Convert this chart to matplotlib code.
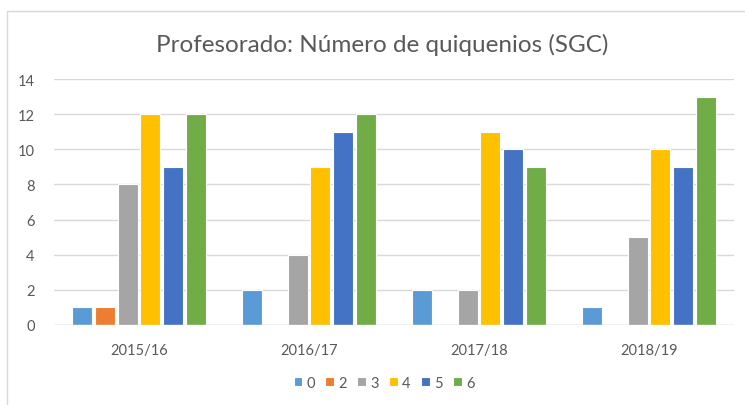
import matplotlib
matplotlib.use("Agg")
import matplotlib.pyplot as plt
import numpy as np
from matplotlib.patches import Rectangle

plt.rcParams['font.family'] = ['Lato', 'DejaVu Sans']

# Datos
cursos = ["2015/16", "2016/17", "2017/18", "2018/19"]
series = ["0", "2", "3", "4", "5", "6"]
q0 = [1, 2, 2, 1]
q2 = [1, 0, 0, 0]
q3 = [8, 4, 2, 5]
q4 = [12, 9, 11, 10]
q5 = [9, 11, 10, 9]
q6 = [12, 12, 9, 13]
valores = [q0, q2, q3, q4, q5, q6]
colores = ["#5B9BD5", "#ED7D31", "#A5A5A5", "#FFC000", "#4472C4", "#70AD47"]

fig = plt.figure(figsize=(7.45, 4.06), dpi=100)
ax = fig.add_axes([54 / 745, 1 - 326 / 406, 680 / 745, 246 / 406])

# marco del gráfico (estilo Excel)
fig.patches.append(Rectangle((7 / 745, -0.1), 1.2, 1 - 12 / 406 + 0.1,
                             transform=fig.transFigure, fill=False,
                             edgecolor="#D9D9D9", linewidth=1))

x = np.arange(len(cursos))
paso = 0.1335
for i, (nombre, vals, col) in enumerate(zip(series, valores, colores)):
    pos = x + (i - 2.5) * paso
    v = np.array(vals, dtype=float)
    v[v == 0] = np.nan
    ax.bar(pos, v, width=0.118, color=col, edgecolor="white", linewidth=0.8,
           label=nombre, zorder=3)

ax.set_xlim(-0.5, 3.5)
ax.set_ylim(0, 14)
ax.set_yticks(range(0, 15, 2))
ax.set_xticks(x)
ax.set_xticklabels(cursos)
ax.grid(axis="y", color="#D9D9D9", linewidth=1, zorder=0)
for s in ax.spines.values():
    s.set_visible(False)
ax.axhline(0, color="#D9D9D9", linewidth=1, zorder=4)
ax.tick_params(length=0, labelsize=10.5, colors="#595959")
ax.tick_params(axis="x", pad=13)
ax.tick_params(axis="y", pad=14)

fig.text(382 / 745, 1 - 45 / 406, "Profesorado: Número de quiquenios (SGC)",
         ha="center", va="center", fontsize=17.5, color="#595959")

fig.legend(loc="center", bbox_to_anchor=(384 / 745, 1 - 384 / 406), ncol=6,
           frameon=False, fontsize=10.5, labelcolor="#595959",
           handlelength=0.6, handleheight=0.6, handletextpad=0.3,
           columnspacing=0.7)

fig.savefig("out.png", dpi=100)
